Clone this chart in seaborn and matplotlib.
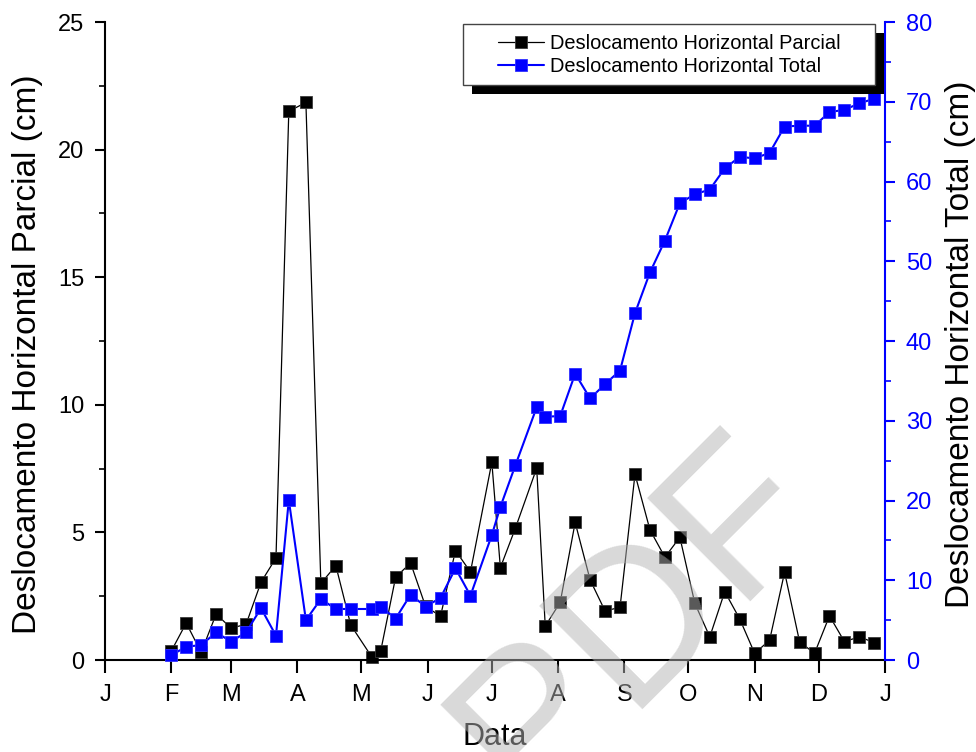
import matplotlib
matplotlib.use("Agg")
import matplotlib.pyplot as plt
import matplotlib.transforms as mtransforms
from matplotlib.patches import Rectangle
from matplotlib.lines import Line2D
from matplotlib.ticker import MultipleLocator
import pandas as pd
import seaborn as sns

# Weekly survey dates
datas = [
    "2010-02-01", "2010-02-08", "2010-02-15", "2010-02-22", "2010-03-01", "2010-03-08",
    "2010-03-15", "2010-03-22", "2010-03-28", "2010-04-05", "2010-04-12", "2010-04-19",
    "2010-04-26", "2010-05-06", "2010-05-10", "2010-05-17", "2010-05-24", "2010-05-31",
    "2010-06-07", "2010-06-14", "2010-06-21", "2010-07-01", "2010-07-05", "2010-07-12",
    "2010-07-22", "2010-07-26", "2010-08-02", "2010-08-09", "2010-08-16", "2010-08-23",
    "2010-08-30", "2010-09-06", "2010-09-13", "2010-09-20", "2010-09-27", "2010-10-04",
    "2010-10-11", "2010-10-18", "2010-10-25", "2010-11-01", "2010-11-08", "2010-11-15",
    "2010-11-22", "2010-11-29", "2010-12-06", "2010-12-13", "2010-12-20", "2010-12-27",
]

# Partial horizontal displacement (cm), left axis
parcial = [
    0.35, 1.45, 0.30, 1.80, 1.25, 1.40, 3.05, 4.00, 21.50, 21.85,
    3.00, 3.70, 1.37, 0.10, 0.35, 3.25, 3.80, 2.10, 1.72, 4.29,
    3.45, 7.75, 3.62, 5.16, 7.52, 1.33, 2.26, 5.39, 3.14, 1.92,
    2.07, 7.28, 5.10, 4.03, 4.81, 2.22, 0.91, 2.68, 1.61, 0.26,
    0.78, 3.44, 0.72, 0.26, 1.73, 0.72, 0.91, 0.68,
]

# Total horizontal displacement (cm), right axis
total = [
    0.60, 1.67, 1.88, 3.47, 2.30, 3.47, 6.50, 3.05, 20.06, 5.00,
    7.65, 6.40, 6.40, 6.40, 6.70, 5.20, 8.20, 6.70, 7.80, 11.50,
    8.07, 15.67, 19.20, 24.40, 31.70, 30.50, 30.60, 35.90, 32.80, 34.60,
    36.30, 43.50, 48.60, 52.60, 57.30, 58.40, 59.00, 61.65, 63.10, 62.90,
    63.60, 66.90, 67.00, 67.00, 68.70, 69.00, 69.80, 70.40,
]

meses = ["J", "F", "M", "A", "M", "J", "J", "A", "S", "O", "N", "D", "J"]
rotulos = ["Deslocamento Horizontal Parcial", "Deslocamento Horizontal Total"]

df = pd.DataFrame({"data": pd.to_datetime(datas), "parcial": parcial, "total": total})
inicio_meses = pd.date_range("2010-01-01", "2011-01-01", freq="MS")

sns.set_style("ticks")
plt.rcParams["font.family"] = ["Liberation Sans", "DejaVu Sans"]
plt.rcParams["text.color"] = "black"
plt.rcParams["axes.labelcolor"] = "black"
plt.rcParams["xtick.color"] = "black"
plt.rcParams["ytick.color"] = "black"

AZUL = "#0000ff"
fig, ax = plt.subplots(figsize=(9.76, 7.52), dpi=100)
fig.subplots_adjust(left=0.1076, right=0.9068, bottom=0.1223, top=0.9707)

sns.lineplot(data=df, x="data", y="parcial", ax=ax, color="black", lw=0.9,
             marker="s", markersize=9, markeredgecolor="#3a3a3a",
             markeredgewidth=0.6, clip_on=False)

ax2 = ax.twinx()
sns.lineplot(data=df, x="data", y="total", ax=ax2, color=AZUL, lw=1.5,
             marker="s", markersize=9, markeredgecolor="#3030ff",
             markeredgewidth=0.6, clip_on=False)

# Axis limits and ticks
ax.set_xlim(inicio_meses[0], inicio_meses[-1])
ax.set_xticks(inicio_meses)
ax.set_xticklabels(meses)
ax.set_ylim(0, 25)
ax.yaxis.set_major_locator(MultipleLocator(5))
ax.yaxis.set_minor_locator(MultipleLocator(2.5))
ax2.set_ylim(0, 80)
ax2.yaxis.set_major_locator(MultipleLocator(10))
ax2.yaxis.set_minor_locator(MultipleLocator(5))

ax.tick_params(axis="x", which="major", direction="out", length=9, width=1.5,
               labelsize=17, pad=8, color="black", labelcolor="black")
ax.tick_params(axis="y", which="major", direction="out", length=7, width=1.5,
               labelsize=17, pad=8, color="black", labelcolor="black")
ax.tick_params(axis="y", which="minor", direction="out", length=4.5, width=1.2,
               color="black")
ax2.tick_params(axis="y", which="major", direction="out", length=7, width=1.5,
                labelsize=17, pad=8, color=AZUL, labelcolor=AZUL)
ax2.tick_params(axis="y", which="minor", direction="out", length=4.5, width=1.2,
                color=AZUL)

# Spines
for s in ("top", "right"):
    ax.spines[s].set_visible(False)
for s in ("top", "left", "bottom"):
    ax2.spines[s].set_visible(False)
ax.spines["left"].set_linewidth(1.5)
ax.spines["bottom"].set_linewidth(1.5)
ax.spines["left"].set_color("black")
ax.spines["bottom"].set_color("black")
ax2.spines["right"].set_linewidth(1.5)
ax2.spines["right"].set_color(AZUL)

# Axis titles
ax.set_xlabel("Data", fontsize=22, color="black")
ax.xaxis.set_label_coords(0.5, -0.097)
ax.set_ylabel("Deslocamento Horizontal Parcial (cm)", fontsize=24, color="black")
ax.yaxis.set_label_coords(-0.0795, 0.48)
ax2.set_ylabel("Deslocamento Horizontal Total (cm)", fontsize=24, color="black")
ax2.yaxis.set_label_coords(1.077, 0.495)

# Legend with a solid drop shadow
x0, y0, w, h = 0.459, 0.9013, 0.528, 0.0956
sombra = mtransforms.offset_copy(ax2.transAxes, fig=fig, x=9, y=-9, units="dots")
ax2.add_patch(Rectangle((x0, y0), w, h, transform=sombra, fc="black", ec="black",
                        lw=0, zorder=9, clip_on=False))
ax2.add_patch(Rectangle((x0, y0), w, h, transform=ax2.transAxes, fc="white",
                        ec="#444444", lw=1.0, zorder=10, clip_on=False))
alcas = [
    Line2D([], [], color="black", lw=0.9, marker="s", markersize=9,
           markeredgecolor="#3a3a3a", markeredgewidth=0.6),
    Line2D([], [], color=AZUL, lw=1.5, marker="s", markersize=9,
           markeredgecolor="#3030ff", markeredgewidth=0.6),
]
leg = ax2.legend(alcas, rotulos, loc="center",
                 bbox_to_anchor=(x0 + w / 2, y0 + h / 2), frameon=False,
                 fontsize=14.4, handlelength=2.3, handletextpad=0.3,
                 labelspacing=0.2, borderpad=0)
leg.set_zorder(11)
for t in leg.get_texts():
    t.set_color("black")

# Watermark stamped over the figure
fig.text(0.653, 0.176, "PDF", fontsize=152, rotation=45, rotation_mode="anchor",
         ha="center", va="center", color=(0.706, 0.706, 0.706), alpha=0.5,
         zorder=20)

fig.savefig("out.png", dpi=100)
